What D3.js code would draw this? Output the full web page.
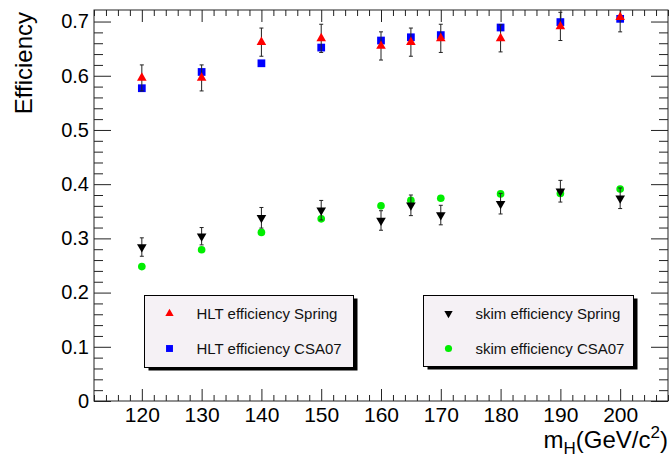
<!DOCTYPE html>
<html>
<head>
<meta charset="utf-8">
<script src="https://cdn.jsdelivr.net/npm/d3@7"></script>
<style>
  body { margin: 0; background: #fff; }
  svg { font-family: "Liberation Sans", Arial, sans-serif; }
</style>
</head>
<body>
<div id="chart"></div>
<script>
// Higgs mass points (GeV/c^2)
const mass = [120, 130, 140, 150, 160, 165, 170, 180, 190, 200];

// HLT efficiency
const hltSpring = [0.596, 0.596, 0.662, 0.669, 0.655, 0.662, 0.669, 0.669, 0.691, 0.708];
const hltSpringErr = [0.024, 0.024, 0.026, 0.026, 0.026, 0.026, 0.026, 0.025, 0.026, 0.027];
const hltCSA07 = [0.577, 0.607, 0.623, 0.652, 0.665, 0.671, 0.675, 0.689, 0.699, 0.705];

// skim efficiency
const skimSpring = [0.284, 0.304, 0.338, 0.352, 0.333, 0.361, 0.343, 0.364, 0.387, 0.374];
const skimSpringErr = [0.017, 0.016, 0.019, 0.018, 0.018, 0.019, 0.018, 0.019, 0.020, 0.019];
const skimCSA07 = [0.248, 0.279, 0.311, 0.336, 0.360, 0.370, 0.374, 0.382, 0.383, 0.391];

const xMajor = [120, 130, 140, 150, 160, 170, 180, 190, 200];
const yMajor = [0, 0.1, 0.2, 0.3, 0.4, 0.5, 0.6, 0.7];

// set the dimensions and margins of the graph
var margin = { top: 10, right: 4, bottom: 62, left: 94 },
    width = 672 - margin.left - margin.right,
    height = 463 - margin.top - margin.bottom;

var svgRoot = d3.select("#chart")
    .append("svg")
    .attr("width", 672)
    .attr("height", 463);

var svg = svgRoot.append("g")
    .attr("transform", "translate(" + margin.left + "," + margin.top + ")");

var x = d3.scaleLinear().domain([112, 208]).range([0, width]);
var y = d3.scaleLinear().domain([0, 0.7213]).range([height, 0]);

const xMinor = d3.range(112, 208.1, 2).filter(v => v % 10 !== 0);
const yMinor = d3.range(0, 0.72, 0.02).filter(v => Math.abs(v * 10 - Math.round(v * 10)) > 1e-6);

function styleAxis(g) {
    g.select(".domain").remove();
    g.selectAll("line").attr("stroke", "#222");
}

// bottom axis
svg.append("g")
    .attr("transform", "translate(0," + height + ")")
    .call(d3.axisBottom(x).tickValues(xMajor).tickSize(-12).tickPadding(6).tickFormat(d3.format("d")))
    .call(styleAxis)
    .selectAll("text").style("font-size", "21px").attr("fill", "#000");
svg.append("g")
    .attr("transform", "translate(0," + height + ")")
    .call(d3.axisBottom(x).tickValues(xMinor).tickSize(-6).tickFormat(""))
    .call(styleAxis);

// top axis
svg.append("g")
    .call(d3.axisTop(x).tickValues(xMajor).tickSize(-12).tickFormat(""))
    .call(styleAxis);
svg.append("g")
    .call(d3.axisTop(x).tickValues(xMinor).tickSize(-6).tickFormat(""))
    .call(styleAxis);

// left axis
svg.append("g")
    .call(d3.axisLeft(y).tickValues(yMajor).tickSize(-17).tickPadding(5).tickFormat(d => d === 0 ? "0" : d3.format(".1f")(d)))
    .call(styleAxis)
    .selectAll("text").style("font-size", "20px").attr("fill", "#000");
svg.append("g")
    .call(d3.axisLeft(y).tickValues(yMinor).tickSize(-9).tickFormat(""))
    .call(styleAxis);

// right axis
svg.append("g")
    .attr("transform", "translate(" + width + ",0)")
    .call(d3.axisRight(y).tickValues(yMajor).tickSize(-17).tickFormat(""))
    .call(styleAxis);
svg.append("g")
    .attr("transform", "translate(" + width + ",0)")
    .call(d3.axisRight(y).tickValues(yMinor).tickSize(-9).tickFormat(""))
    .call(styleAxis);

// frame
svg.append("rect")
    .attr("width", width)
    .attr("height", height)
    .attr("fill", "none")
    .attr("stroke", "#222")
    .attr("stroke-width", 1);

// axis titles
svgRoot.append("text")
    .attr("transform", "translate(32,12)rotate(-90)")
    .attr("text-anchor", "end")
    .style("font-size", "24px")
    .text("Efficiency");

var xt = svgRoot.append("text")
    .attr("x", 668)
    .attr("y", 448)
    .attr("text-anchor", "end")
    .style("font-size", "24px");
xt.append("tspan").text("m");
xt.append("tspan").attr("dy", 6).style("font-size", "17px").text("H");
xt.append("tspan").attr("dy", -6).text("(GeV/c");
xt.append("tspan").attr("dy", -10).style("font-size", "17px").text("2");
xt.append("tspan").attr("dy", 10).text(")");

var plot = svg.append("g");
var clip = svg.append("clipPath").attr("id", "clip")
    .append("rect").attr("width", width).attr("height", height);
plot.attr("clip-path", "url(#clip)");

const triUp = d3.symbol().type(d3.symbolTriangle).size(40);
const square = d3.symbol().type(d3.symbolSquare).size(60);
const circle = d3.symbol().type(d3.symbolCircle).size(46);

function errorBars(vals, errs) {
    var g = plot.append("g").attr("stroke", "#222").attr("stroke-width", 1);
    mass.forEach((m, i) => {
        var cx = x(m), top = y(vals[i] + errs[i]), bot = y(vals[i] - errs[i]);
        g.append("line").attr("x1", cx).attr("x2", cx).attr("y1", top).attr("y2", bot);
        g.append("line").attr("x1", cx - 2).attr("x2", cx + 2).attr("y1", top).attr("y2", top);
        g.append("line").attr("x1", cx - 2).attr("x2", cx + 2).attr("y1", bot).attr("y2", bot);
    });
}

function markers(vals, sym, color, rot) {
    plot.append("g")
        .selectAll("path")
        .data(vals)
        .enter()
        .append("path")
        .attr("d", sym)
        .attr("transform", (d, i) => "translate(" + x(mass[i]) + "," + y(d) + ")" + (rot ? "rotate(180)" : ""))
        .attr("fill", color);
}

// HLT
markers(hltCSA07, square, "#0000ff", false);
errorBars(hltSpring, hltSpringErr);
markers(hltSpring, triUp, "#ff0000", false);

// skim
markers(skimCSA07, circle, "#00ee00", false);
errorBars(skimSpring, skimSpringErr);
markers(skimSpring, triUp, "#000000", true);

// legends
function legend(x0, y0, w, h, items) {
    var g = svgRoot.append("g");
    g.append("rect").attr("x", x0 + 4).attr("y", y0 + 3).attr("width", w).attr("height", h).attr("fill", "#000");
    g.append("rect").attr("x", x0).attr("y", y0).attr("width", w).attr("height", h)
        .attr("fill", "#f5f1f5").attr("stroke", "#000").attr("stroke-width", 1);
    items.forEach((it, i) => {
        var cy = y0 + 18 + i * 35;
        g.append("path")
            .attr("d", d3.symbol().type(it.type).size(it.size)())
            .attr("transform", "translate(" + (x0 + 25) + "," + cy + ")" + (it.rot ? "rotate(180)" : ""))
            .attr("fill", it.color);
        g.append("text")
            .attr("x", x0 + 52)
            .attr("y", cy + 5)
            .style("font-size", "15px")
            .attr("fill", "#111")
            .text(it.label);
    });
}

legend(144.5, 295.5, 209, 72, [
    { label: "HLT efficiency Spring", type: d3.symbolTriangle, size: 30, color: "#ff0000" },
    { label: "HLT efficiency CSA07", type: d3.symbolSquare, size: 48, color: "#0000ff" }
]);
legend(423.5, 295.5, 210, 71, [
    { label: "skim efficiency Spring", type: d3.symbolTriangle, size: 30, color: "#000000", rot: true },
    { label: "skim efficiency CSA07", type: d3.symbolCircle, size: 40, color: "#00ee00" }
]);
</script>
</body>
</html>
